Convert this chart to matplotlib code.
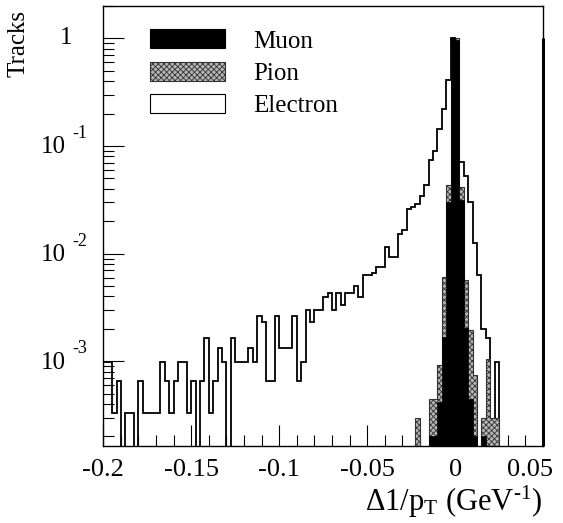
import numpy as np
import matplotlib
matplotlib.use("Agg")
import matplotlib.pyplot as plt
from matplotlib.patches import Patch
from matplotlib.ticker import MultipleLocator, LogLocator, NullFormatter
from matplotlib.transforms import offset_copy, ScaledTranslation

plt.rcParams['font.family'] = ['Liberation Serif', 'DejaVu Serif']
plt.rcParams['mathtext.fontset'] = 'custom'
plt.rcParams['mathtext.rm'] = 'Liberation Serif'
plt.rcParams['mathtext.it'] = 'Liberation Serif:italic'
plt.rcParams['hatch.color'] = '#555555'
plt.rcParams['hatch.linewidth'] = 0.6

# histogram binning: 100 bins of 0.0025 between -0.2 and 0.05
bin_edges = np.linspace(-0.2, 0.05, 101)

# normalised track fractions per bin
electron = [9.9e-4, 9.9e-4, 3.3e-4, 6.6e-4, 0, 3.3e-4, 3.3e-4, 0, 6.6e-4, 3.3e-4,
            3.3e-4, 3.3e-4, 3.3e-4, 9.9e-4, 6.6e-4, 3.3e-4, 6.6e-4, 9.9e-4, 9.9e-4, 3.3e-4,
            6.6e-4, 0, 6.6e-4, 1.65e-3, 3.3e-4, 6.6e-4, 1.32e-3, 9.9e-4, 0, 1.65e-3,
            9.9e-4, 9.9e-4, 9.9e-4, 1.32e-3, 9.9e-4, 2.64e-3, 2.31e-3, 6.6e-4, 6.6e-4, 2.64e-3,
            1.32e-3, 1.32e-3, 1.32e-3, 2.64e-3, 6.6e-4, 9.9e-4, 2.97e-3, 2.31e-3, 2.97e-3, 2.97e-3,
            3.96e-3, 4.29e-3, 2.97e-3, 4.29e-3, 3.3e-3, 4.29e-3, 4.29e-3, 4.95e-3, 3.96e-3, 6.27e-3,
            6.27e-3, 6.6e-3, 7.59e-3, 7.59e-3, 0.0116, 9.24e-3, 9.24e-3, 0.0152, 0.0165, 0.0258,
            0.0270, 0.0288, 0.0346, 0.0438, 0.074, 0.090, 0.145, 0.22, 0.41, 1.0,
            0.7, 0.0713, 0.0528, 0.0299, 0.0125, 6.3e-3, 1.98e-3, 1.65e-3, 0, 9.9e-4,
            0, 0, 0, 0, 0, 0, 0, 0, 0, 0]

pion = [0] * 71 + [3.0e-4, 0, 0, 4.5e-4, 4.5e-4, 9.2e-4, 6.1e-3, 0.0433, 0.8,
                   1.0, 0.0418, 5.7e-3, 1.97e-3, 7.5e-4, 0, 3.0e-4, 1.06e-3, 3.0e-4, 3.0e-4] + [0] * 10

muon = [0] * 74 + [2.0e-4, 2.0e-4, 4.2e-4, 1.69e-3, 0.0303, 1.0,
                   0.97, 0.0315, 2.02e-3, 4.5e-4, 2.0e-4, 0, 2.0e-4] + [0] * 13

x_ticks = [-0.2, -0.15, -0.1, -0.05, 0, 0.05]
x_tick_labels = ['-0.2', '-0.15', '-0.1', '-0.05', '0', '0.05']
y_decades = [1e-3, 1e-2, 1e-1, 1]
y_exponents = ['-3', '-2', '-1', None]

FLOOR = 1e-7


def clip_zero(v):
    v = np.asarray(v, dtype=float)
    return np.where(v > 0, v, FLOOR)


fig = plt.figure(figsize=(5.63, 5.23), dpi=100)
ax = fig.add_axes([0.1835, 0.1472, 0.7810, 0.8413])

# electron: open histogram, drawn first
ax.stairs(clip_zero(electron), bin_edges, baseline=FLOOR, fill=True,
          facecolor='white', edgecolor='none', zorder=1)
ax.stairs(clip_zero(electron), bin_edges, baseline=FLOOR, fill=False,
          color='black', lw=1.3, zorder=2)
# pion: checkered grey
ax.stairs(clip_zero(pion), bin_edges, baseline=FLOOR, fill=True,
          facecolor='#b5b5b5', edgecolor='#333333', hatch='xxxxxx', lw=0.8, zorder=3)
# muon: solid black
ax.stairs(clip_zero(muon), bin_edges, baseline=FLOOR, fill=True,
          facecolor='black', edgecolor='black', lw=0.5, zorder=4)

ax.set_xlim(-0.2, 0.05)
ax.set_yscale('log')
ax.set_ylim(1.63e-4, 2.0)

for s in ax.spines.values():
    s.set_linewidth(1.0)
    s.set_zorder(6)
# heavier right frame below 1, as in the original canvas
ax.vlines(0.05, 1.63e-4, 1.0, color='black', lw=2.2, zorder=6, clip_on=False)

# x axis ticks
ax.set_xticks(x_ticks)
ax.set_xticklabels(x_tick_labels, fontsize=19)
ax.xaxis.set_minor_locator(MultipleLocator(0.01))
ax.tick_params(axis='x', which='major', direction='in', length=15, width=0.8,
               pad=9, top=False)
ax.tick_params(axis='x', which='minor', direction='in', length=8, width=0.8, top=False)
# last label pulled inside like ROOT does
last = ax.get_xticklabels()[-1]
last.set_transform(last.get_transform() + ScaledTranslation(-0.13, 0, fig.dpi_scale_trans))

# y axis ticks, labels drawn by hand in ROOT style
ax.yaxis.set_major_locator(LogLocator(base=10, numticks=10))
ax.yaxis.set_minor_locator(LogLocator(base=10, subs=np.arange(2, 10), numticks=20))
ax.yaxis.set_major_formatter(NullFormatter())
ax.yaxis.set_minor_formatter(NullFormatter())
ax.tick_params(axis='y', which='major', direction='in', length=15, width=0.8, right=False)
ax.tick_params(axis='y', which='minor', direction='in', length=8, width=0.8, right=False)

ytrans = ax.get_yaxis_transform()
for val, ex in zip(y_decades, y_exponents):
    if ex is None:
        t = offset_copy(ytrans, fig=fig, x=-22, y=0, units='points')
        ax.text(0, val, '1', transform=t, ha='right', va='center', fontsize=18)
    else:
        t = offset_copy(ytrans, fig=fig, x=-27, y=-1, units='points')
        ax.text(0, val, '10', transform=t, ha='right', va='center', fontsize=18)
        t2 = offset_copy(ytrans, fig=fig, x=-22, y=9, units='points')
        ax.text(0, val, ex, transform=t2, ha='left', va='center', fontsize=13)

ax.text(-0.194, 0.99, 'Tracks', rotation=90, ha='center', va='top',
        transform=ax.transAxes, fontsize=18)
ax.text(1.0, -0.128, r'$\Delta$1/p$_{\mathregular{T}}$ (GeV$^{\mathregular{‐1}}$)',
        ha='right', va='center', transform=ax.transAxes, fontsize=22)

# legend
handles = [Patch(facecolor='black', edgecolor='black', lw=0.8),
           Patch(facecolor='#b5b5b5', edgecolor='#333333', hatch='xxxxxx', lw=0.8),
           Patch(facecolor='white', edgecolor='black', lw=0.8)]
ax.legend(handles, ['Muon', 'Pion', 'Electron'], loc='upper left',
          bbox_to_anchor=(0.106, 0.947), frameon=False, fontsize=18,
          handlelength=3.0, handleheight=0.8, handletextpad=1.15,
          labelspacing=0.36, borderpad=0, borderaxespad=0)

fig.savefig('out.png', dpi=100)
